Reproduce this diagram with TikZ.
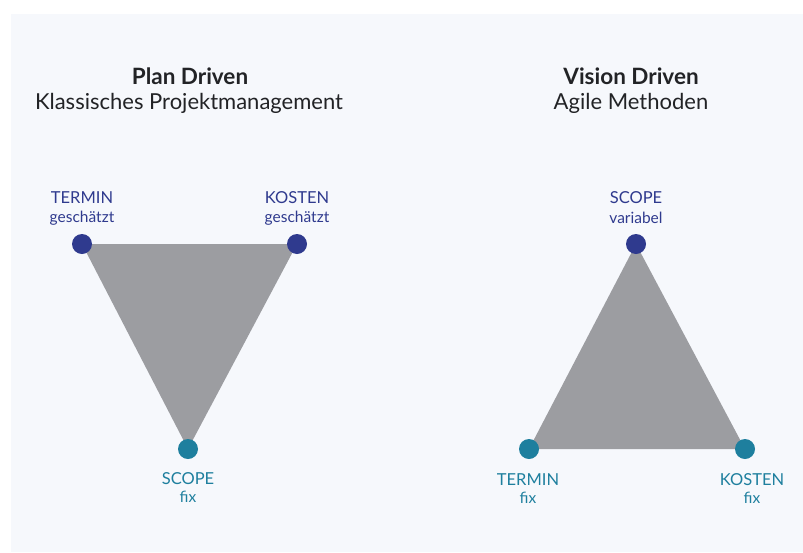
\documentclass[tikz,border=0pt]{standalone}
\usepackage{fontspec}
\setmainfont{Lato}
\usetikzlibrary{backgrounds}
\definecolor{hgrund}{HTML}{F6F8FC}
\definecolor{dunkelblau}{HTML}{2F3A8E}
\definecolor{petrol}{HTML}{1E7F9E}
\definecolor{dreieck}{HTML}{9C9DA1}
\definecolor{titel}{HTML}{222326}
\tikzset{
  punktblau/.style={circle, fill=dunkelblau, minimum size=20pt, inner sep=0pt},
  punktpetrol/.style={circle, fill=petrol, minimum size=20pt, inner sep=0pt},
  ecke/.style={font=\fontsize{16.5}{18}\selectfont, inner sep=0pt},
  zusatz/.style={font=\fontsize{15.5}{17}\selectfont, inner sep=0pt},
  kopf/.style={font=\fontsize{22.5}{24}\selectfont\bfseries, text=titel, inner sep=0pt},
  unterkopf/.style={font=\fontsize{22}{24}\selectfont, text=titel, inner sep=0pt}
}
\begin{document}
\begin{tikzpicture}[x=1pt, y=-1pt]
\useasboundingbox (0,0) rectangle (803,552);
% Titel
\node [kopf] (t1) at (190,76) {Plan Driven};
\node [unterkopf] (u1) at (189,103) {Klassisches Projektmanagement};
\node [kopf] (t2) at (631,76) {Vision Driven};
\node [unterkopf] (u2) at (631,103) {Agile Methoden};
% Punkte links
\node [punktblau] (L1) at (82,244) {};
\node [punktblau] (L2) at (297,244) {};
\node [punktpetrol] (L3) at (188,449) {};
% Punkte rechts
\node [punktblau] (R1) at (636,244) {};
\node [punktpetrol] (R2) at (529,449) {};
\node [punktpetrol] (R3) at (745,449) {};
% Dreiecke
\begin{scope}[on background layer]
\fill [hgrund] (11,14) rectangle (803,552);
\fill [dreieck] (L1.center) -- (L2.center) -- (L3.center) -- cycle;
\fill [dreieck] (R1.center) -- (R2.center) -- (R3.center) -- cycle;
\end{scope}
% Beschriftung links
\node [ecke, text=dunkelblau] (a1) at (82,198) {TERMIN};
\node [zusatz, text=dunkelblau] (b1) at (82,218) {geschätzt};
\node [ecke, text=dunkelblau] (a2) at (297,198) {KOSTEN};
\node [zusatz, text=dunkelblau] (b2) at (297,218) {geschätzt};
\node [ecke, text=petrol] (a3) at (188,479) {SCOPE};
\node [zusatz, text=petrol] (b3) at (188,497) {fix};
% Beschriftung rechts
\node [ecke, text=dunkelblau] (c1) at (636,198) {SCOPE};
\node [zusatz, text=dunkelblau] (d1) at (636,218) {variabel};
\node [ecke, text=petrol] (c2) at (528,480) {TERMIN};
\node [zusatz, text=petrol] (d2) at (528,498) {fix};
\node [ecke, text=petrol] (c3) at (752,480) {KOSTEN};
\node [zusatz, text=petrol] (d3) at (752,498) {fix};
\end{tikzpicture}
\end{document}
